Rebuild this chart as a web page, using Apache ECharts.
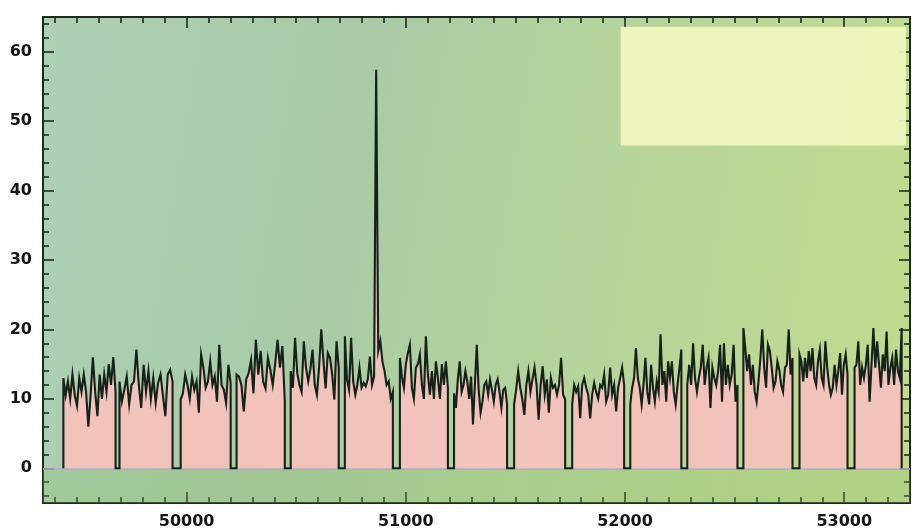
<!DOCTYPE html>
<html>
<head>
<meta charset="utf-8">
<script src="https://cdn.jsdelivr.net/npm/echarts@6/dist/echarts.min.js"></script>
<style>
html,body{margin:0;padding:0;background:#ffffff;}
#chart{width:917px;height:530px;}
</style>
</head>
<body>
<div id="chart"></div>
<script>
// ---- data ----
const blockStarts = [49438, 49694, 49973, 50228, 50475, 50722, 50973, 51220, 51494, 51759, 52024, 52284, 52540, 52796, 53047];
const blockEnds   = [49676, 49936, 50201, 50448, 50694, 50941, 51192, 51462, 51727, 51996, 52257, 52513, 52764, 53015, 53262];

const block1  = [13, 10.5, 12.5, 10, 13.5, 10.5, 9, 13, 11, 13.5, 11, 6, 10.5, 16, 11, 7.5, 13.5, 10, 13.5, 11, 15, 12, 16, 11];
const block2  = [12.5, 9.6, 11.3, 13.2, 9.2, 12, 12.5, 17.1, 12, 8.7, 14.9, 11, 14, 10, 13, 9.4, 12.3, 13.5, 10.5, 7.5, 13.5, 14.2, 12.5];
const block3  = [9.9, 10.8, 13.5, 12, 10, 13.2, 11.3, 12.5, 8, 16.4, 14.5, 11.6, 12.5, 15.4, 12, 13.2, 9.6, 17.8, 12, 11.3, 9.4, 14.9, 12.3];
const block4  = [13.5, 13.2, 12, 8.2, 12.8, 13.7, 15.6, 10.8, 18.5, 13.5, 16.9, 12.5, 11.5, 15.9, 14.2, 12, 15, 18.5, 14.5, 17.6, 9.6];
const block5  = [14, 11.6, 18.8, 13.7, 12, 11, 18.3, 14.5, 12.5, 14.2, 17.1, 12, 10.6, 14.5, 20, 15.4, 11.5, 16.6, 15.9, 13.5, 9.9, 18.3, 14.5];
const block6  = [19, 12.8, 11.3, 18.8, 12.5, 10.6, 12, 14.5, 11.6, 12.3, 11.8, 12.8, 16.1, 12, 13.2, 57.4, 16.9, 18.3, 15.4, 14, 12, 12.5, 10, 11];
const block7  = [15.9, 13.2, 11.6, 15, 16.6, 17.8, 11.6, 10, 14.5, 15, 16.4, 12, 10, 19, 13.5, 10.6, 14, 10, 15.4, 13, 10, 15, 12, 15.4, 11.6];
const block8  = [10.8, 8.7, 12.8, 15.4, 11, 12, 14, 12.5, 10, 13.2, 6.3, 12, 17.8, 11.3, 8, 9.6, 12, 12.5, 10.6, 12.8, 11.3, 9.6, 12, 12.8, 11, 8.7, 11.3, 11.6, 9.2];
const block9  = [9.2, 11.3, 14, 11.6, 10, 7.7, 12, 14, 11, 12.8, 14.5, 12, 7, 12, 14.7, 10.6, 12.8, 8, 13, 11.6, 12, 10.6, 12, 15.9, 10.6, 9.9];
const block10 = [9.2, 12, 11, 11.8, 7.2, 12, 13, 11.6, 10.6, 7.2, 10.6, 12.3, 11, 10, 12, 11.6, 13.5, 9.6, 10.6, 14.5, 10.6, 12, 8.2, 11.6, 13, 14.5, 12];
const block11 = [9.2, 11.6, 13, 17.3, 13, 11.6, 9.2, 12, 15.9, 11, 9.2, 14.9, 11.6, 9.6, 12.5, 11, 19.3, 12, 14, 9.6, 15.4, 13, 15.4, 11, 9.2, 12, 14.5, 17.1];
const block12 = [12, 14.9, 12, 18, 13, 11, 13, 14.5, 17.8, 12, 14.5, 15.9, 8.7, 14.5, 13, 12, 14, 17.8, 9.6, 18, 12, 14.9, 12, 13.5, 17.8, 9.6, 12];
const block13 = [20.2, 17.3, 14, 16.4, 12, 14.9, 11, 9.6, 12.5, 15.9, 20, 14.5, 11.6, 17.8, 16.9, 14.5, 11.6, 12.5, 15.4, 14.2, 12, 11, 14.5, 14.9, 20, 13.5, 15.9];
const block14 = [16.4, 15.4, 12.5, 15.9, 13, 16.9, 14, 17.3, 13, 12, 15.4, 17.1, 13, 12, 18.3, 14.5, 12, 10.6, 11.6, 14.9, 12, 14, 16.6, 10.6, 14.9, 16.4, 13.5];
const block15 = [14.5, 14.9, 18.3, 12, 14.5, 13, 14.9, 17.8, 9.6, 14.9, 20.2, 14.5, 18.3, 14.9, 11.6, 16.4, 14, 19.7, 12, 14.5, 15.9, 12, 17.1, 14, 13, 20.2];
const blockValues = [block1, block2, block3, block4, block5, block6, block7, block8, block9, block10, block11, block12, block13, block14, block15];

const xMin = 49345, xMax = 53300;
const yMin = -5, yMax = 65;
const xMajorTicks = [50000, 51000, 52000, 53000];
const xMinorTicks = [49400,49500,49600,49700,49800,49900,50100,50200,50300,50400,50500,50600,50700,50800,50900,51100,51200,51300,51400,51500,51600,51700,51800,51900,52100,52200,52300,52400,52500,52600,52700,52800,52900,53100,53200];
const yMajorTicks = [0, 10, 20, 30, 40, 50, 60];
const yMinorTicks = [-4,-2,2,4,6,8,12,14,16,18,22,24,26,28,32,34,36,38,42,44,46,48,52,54,56,58,62,64];
const paleBox = [[51980, 46.5], [53282, 63.6]];

// ---- build the trace (uniform sampling inside each exposure block) ----
const trace = [];
blockValues.forEach((vals, b) => {
  const s = blockStarts[b], e = blockEnds[b];
  const step = (e - s) / (vals.length - 1);
  trace.push([s, 0]);
  vals.forEach((v, i) => trace.push([s + i * step, v]));
  trace.push([e, 0]);
});

const axisCol = '#1d2b1f';
const labelFont = {color: '#141414', fontFamily: 'DejaVu Sans', fontWeight: 'bold', fontSize: 16};

function xAx(pos, ticks, len, labels) {
  return {
    type: 'value', position: pos, min: xMin, max: xMax,
    axisLine: {show: true, onZero: false, lineStyle: {color: axisCol, width: 2}},
    axisTick: {show: true, inside: true, length: len, customValues: ticks, lineStyle: {color: axisCol, width: 1.6}},
    axisLabel: labels ? Object.assign({show: true, margin: 11, customValues: ticks, formatter: v => String(v)}, labelFont) : {show: false},
    splitLine: {show: false}
  };
}
function yAx(pos, ticks, len, labels) {
  return {
    type: 'value', position: pos, min: yMin, max: yMax,
    axisLine: {show: true, onZero: false, lineStyle: {color: axisCol, width: 2}},
    axisTick: {show: true, inside: true, length: len, customValues: ticks, lineStyle: {color: axisCol, width: 1.6}},
    axisLabel: labels ? Object.assign({show: true, margin: 11, customValues: ticks, formatter: v => String(v)}, labelFont) : {show: false},
    splitLine: {show: false}
  };
}

const chart = echarts.init(document.getElementById('chart'), null, {renderer: 'canvas'});
chart.setOption({
  animation: false,
  backgroundColor: '#ffffff',
  grid: {
    left: 43, right: 7, top: 17, bottom: 26, show: true, borderWidth: 0,
    backgroundColor: new echarts.graphic.LinearGradient(0, 0, 1, 0.3, [
      {offset: 0, color: '#add0b6'},
      {offset: 0.35, color: '#a8cba6'},
      {offset: 0.6, color: '#b3d39d'},
      {offset: 1, color: '#c0da90'}
    ])
  },
  xAxis: [
    xAx('bottom', xMajorTicks, 11, true),
    xAx('bottom', xMinorTicks, 6, false),
    xAx('top', xMajorTicks, 11, false),
    xAx('top', xMinorTicks, 6, false)
  ],
  yAxis: [
    yAx('left', yMajorTicks, 11, true),
    yAx('left', yMinorTicks, 6, false),
    yAx('right', yMajorTicks, 11, false),
    yAx('right', yMinorTicks, 6, false)
  ],
  series: [
    {
      type: 'line', xAxisIndex: 0, yAxisIndex: 0,
      data: [],
      silent: true,
      markArea: {
        silent: true,
        data: [
          [{coord: paleBox[0], itemStyle: {color: 'rgba(243,247,192,0.9)'}}, {coord: paleBox[1]}],
          [{yAxis: yMin, itemStyle: {color: 'rgba(140,190,100,0.28)'}}, {yAxis: 0}]
        ]
      },
      markLine: {
        silent: true, symbol: 'none', label: {show: false},
        lineStyle: {color: '#b3a9c4', width: 1.5, type: 'solid'},
        data: [{yAxis: 0}]
      }
    },
    {
      type: 'line', xAxisIndex: 0, yAxisIndex: 0,
      data: trace,
      showSymbol: false, symbol: 'none', silent: true,
      sampling: null,
      lineStyle: {color: '#15221a', width: 2.1, join: 'miter'},
      areaStyle: {color: '#f1c3ba', opacity: 1, origin: 0},
      z: 5
    }
  ]
});
</script>
</body>
</html>
